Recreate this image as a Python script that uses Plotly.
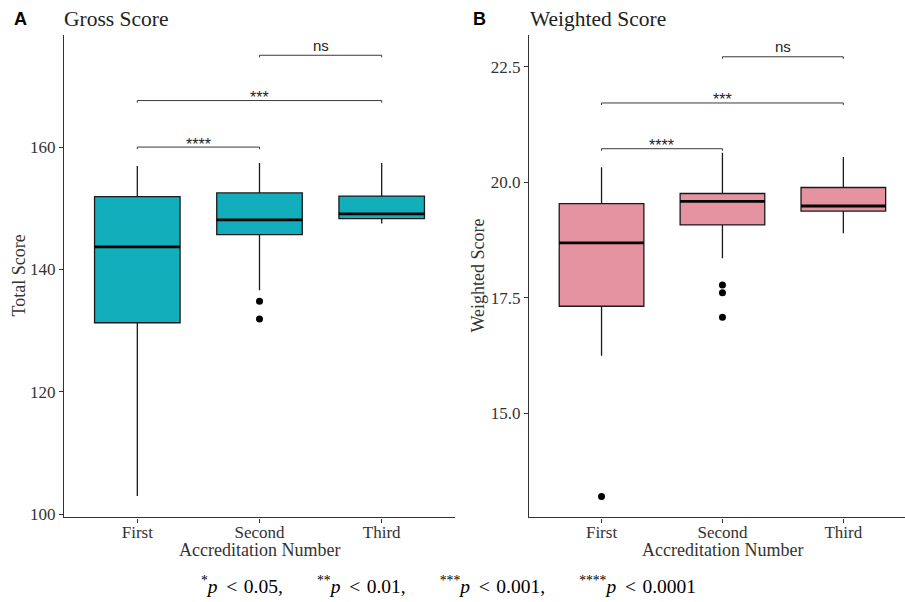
import plotly.graph_objects as go

# ---------------- data ----------------
categories = ["First", "Second", "Third"]

gross_q1 = [131.3, 145.7, 148.3]
gross_median = [143.7, 148.1, 149.1]
gross_q3 = [151.9, 152.5, 152.0]
gross_lower = [103.0, 136.6, 147.5]
gross_upper = [156.9, 157.4, 157.4]
gross_outlier_x = ["Second", "Second"]
gross_outlier_y = [134.8, 131.9]

weighted_q1 = [17.32, 19.08, 19.38]
weighted_median = [18.69, 19.59, 19.49]
weighted_q3 = [19.54, 19.76, 19.89]
weighted_lower = [16.25, 18.36, 18.90]
weighted_upper = [20.33, 20.64, 20.55]
weighted_outlier_x = ["First", "Second", "Second", "Second"]
weighted_outlier_y = [13.20, 17.78, 17.61, 17.08]

comparisons = [("First", "Second"), ("First", "Third"), ("Second", "Third")]
sig_labels = ["****", "***", "ns"]
gross_sig_y = [160.0, 167.6, 175.0]
weighted_sig_y = [20.73, 21.72, 22.72]

gross_ticks = [100, 120, 140, 160]
weighted_ticks = [15.0, 17.5, 20.0, 22.5]

# ---------------- style ----------------
SERIF = "Liberation Serif"
SANS = "Liberation Sans"
TEAL = "#13AEBB"
PINK = "#E693A1"
W, H = 905, 602
HV = 594.0  # effective vertical extent used for placing things


def fy(px):
    return 1 - px / HV


fig = go.Figure()

panels = [
    dict(xa="x", ya="y", q1=gross_q1, med=gross_median, q3=gross_q3, lo=gross_lower, hi=gross_upper,
         ox=gross_outlier_x, oy=gross_outlier_y, fill=TEAL, sig=gross_sig_y, tip=0.35),
    dict(xa="x2", ya="y2", q1=weighted_q1, med=weighted_median, q3=weighted_q3, lo=weighted_lower, hi=weighted_upper,
         ox=weighted_outlier_x, oy=weighted_outlier_y, fill=PINK, sig=weighted_sig_y, tip=0.045),
]

box_half = 0.35
shapes = []
annotations = []
for p in panels:
    fig.add_trace(go.Box(
        x=categories, q1=p["q1"], median=p["med"], q3=p["q3"],
        lowerfence=p["lo"], upperfence=p["hi"],
        xaxis=p["xa"], yaxis=p["ya"], width=0.7, whiskerwidth=0,
        fillcolor=p["fill"], line=dict(color="#1a1a1a", width=1.3),
        boxpoints=False, showlegend=False, hoverinfo="skip",
    ))
    fig.add_trace(go.Scatter(
        x=p["ox"], y=p["oy"], mode="markers", xaxis=p["xa"], yaxis=p["ya"],
        marker=dict(color="black", size=7), showlegend=False, hoverinfo="skip",
    ))
    # thick median lines
    for i, m in enumerate(p["med"]):
        shapes.append(dict(type="line", xref=p["xa"], yref=p["ya"],
                           x0=i - box_half, x1=i + box_half, y0=m, y1=m,
                           line=dict(color="black", width=2.8)))
    # significance brackets
    for (a, b), lab, yv in zip(comparisons, sig_labels, p["sig"]):
        ia, ib = categories.index(a), categories.index(b)
        shapes.append(dict(type="line", xref=p["xa"], yref=p["ya"], x0=ia, x1=ib, y0=yv, y1=yv,
                           line=dict(color="#3a3a3a", width=1)))
        for xi in (ia, ib):
            shapes.append(dict(type="line", xref=p["xa"], yref=p["ya"], x0=xi, x1=xi,
                               y0=yv, y1=yv - p["tip"], line=dict(color="#3a3a3a", width=1)))
        annotations.append(dict(x=(ia + ib) / 2, y=yv, xref=p["xa"], yref=p["ya"], text=lab,
                                showarrow=False, yanchor="middle",
                                yshift=10 if lab == "ns" else 3,
                                font=dict(family=SANS, size=15 if lab == "ns" else 16, color="#222")))

axis_common = dict(showline=True, linecolor="#333", linewidth=1.3, ticks="outside", ticklen=4,
                   tickcolor="#333", tickwidth=1.2, showgrid=False, zeroline=False,
                   tickfont=dict(family=SERIF, size=17, color="#333"))

y_dom = [fy(516.5), fy(35)]
fig.update_layout(
    width=W, height=H, autosize=False, margin=dict(l=0, r=0, t=0, b=0),
    paper_bgcolor="white", plot_bgcolor="white",
    xaxis=dict(domain=[64 / W, 455 / W], type="category", range=[-0.6, 2.6], anchor="y",
               ticklabelstandoff=-5, **axis_common),
    yaxis=dict(domain=y_dom, range=[99.5, 178.3], tickvals=gross_ticks, anchor="x", **axis_common),
    xaxis2=dict(domain=[529 / W, 1.0], type="category", range=[-0.6, 2.51], anchor="y2",
                ticklabelstandoff=-5, **axis_common),
    yaxis2=dict(domain=y_dom, range=[12.75, 23.19], tickvals=weighted_ticks, tickformat=".1f",
                anchor="x2", **axis_common),
    shapes=shapes,
)

# panel labels / titles / axis titles
annotations += [
    dict(x=12 / W, y=fy(19), text="<b>A</b>", font=dict(family=SANS, size=18, color="black")),
    dict(x=62 / W, y=fy(19), text="Gross Score", font=dict(family=SERIF, size=21.5, color="#222")),
    dict(x=471 / W, y=fy(19), text="<b>B</b>", font=dict(family=SANS, size=18, color="black")),
    dict(x=528 / W, y=fy(19), text="Weighted Score", font=dict(family=SERIF, size=21.5, color="#222")),
]
for a in annotations[-4:]:
    a.update(xref="paper", yref="paper", xanchor="left", yanchor="middle", showarrow=False)

annotations += [
    dict(x=259 / W, y=fy(549), text="Accreditation Number"),
    dict(x=722 / W, y=fy(549), text="Accreditation Number"),
]
for a in annotations[-2:]:
    a.update(xref="paper", yref="paper", xanchor="center", yanchor="middle", showarrow=False,
             font=dict(family=SERIF, size=18, color="#333"))

annotations += [
    dict(x=19 / W, y=fy(275), text="Total Score", textangle=-90),
    dict(x=478 / W, y=fy(275), text="Weighted Score", textangle=-90),
]
for a in annotations[-2:]:
    a.update(xref="paper", yref="paper", xanchor="center", yanchor="middle", showarrow=False,
             font=dict(family=SERIF, size=18, color="#333"))

gap = "&nbsp;" * 7
lt = "&nbsp;&#8201;&lt;&nbsp;&#8202;"
foot = (f"<sup>*</sup><i>p</i>{lt}0.05,{gap}<sup>**</sup><i>p</i>{lt}0.01,{gap}"
        f"<sup>***</sup><i>p</i>{lt}0.001,{gap}<sup>****</sup><i>p</i>{lt}0.0001")
annotations.append(dict(x=448 / W, y=fy(584), xref="paper", yref="paper", text=foot, showarrow=False,
                        xanchor="center", yanchor="middle",
                        font=dict(family=SERIF, size=19.5, color="black")))

fig.update_layout(annotations=annotations)
fig.write_html("out.html", config={"displayModeBar": False, "responsive": False},
               post_script="document.body.style.margin='0';")
